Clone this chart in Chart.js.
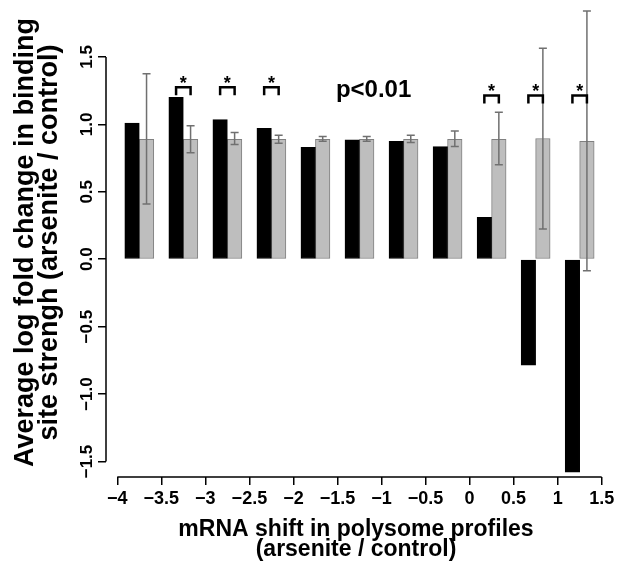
<!DOCTYPE html>
<html>
<head>
<meta charset="utf-8">
<script src="https://cdn.jsdelivr.net/npm/chart.js@4.4.1/dist/chart.umd.min.js"></script>
<style>
  html, body { margin: 0; padding: 0; background: #fff; }
  #wrap { width: 618px; height: 571px; }
</style>
</head>
<body>
<div id="wrap"><canvas id="myChart" width="618" height="571"></canvas></div>
<script>
// bin centres of mRNA shift
const shifts = [-3.75, -3.25, -2.75, -2.25, -1.75, -1.25, -0.75, -0.25, 0.25, 0.75, 1.25];
// black bars / grey bars
const blackVals = [1.01, 1.20, 1.035, 0.97, 0.83, 0.885, 0.875, 0.835, 0.31, -0.785, -1.58];
const greyVals = [0.89, 0.89, 0.89, 0.89, 0.89, 0.89, 0.89, 0.89, 0.89, 0.895, 0.875];
// error bars on grey bars
const greyLow = [0.41, 0.79, 0.85, 0.86, 0.875, 0.875, 0.865, 0.835, 0.70, 0.225, -0.085];
const greyHigh = [1.375, 0.99, 0.94, 0.92, 0.91, 0.91, 0.92, 0.95, 1.09, 1.565, 1.84];
// significance brackets (null = none)
const sigLevel = [null, 1.275, 1.275, 1.275, null, null, null, null, 1.215, 1.215, 1.215];

const xTicks = [-4, -3.5, -3, -2.5, -2, -1.5, -1, -0.5, 0, 0.5, 1, 1.5];
const yTicks = [-1.5, -1, -0.5, 0, 0.5, 1, 1.5];

const pText = 'p<0.01';
const pAt = { x: -1.09, y: 1.255 };

const fontFam = '"Liberation Sans", Arial, Helvetica, sans-serif';
const minus = v => String(v).replace('-', '\u2212');

// R style axis lines (only from first to last tick) + error bars + brackets
const extras = {
  id: 'extras',
  afterDatasetsDraw(chart) {
    const c = chart.ctx;
    const xs = chart.scales.x, ys = chart.scales.y;
    const a = chart.chartArea;
    const m0 = chart.getDatasetMeta(0), m1 = chart.getDatasetMeta(1);

    c.save();
    // error bars
    c.strokeStyle = '#707070';
    c.lineWidth = 1.5;
    for (let i = 0; i < shifts.length; i++) {
      const x = m1.data[i].x;
      const y1 = ys.getPixelForValue(greyLow[i]);
      const y2 = ys.getPixelForValue(greyHigh[i]);
      c.beginPath();
      c.moveTo(x, y1); c.lineTo(x, y2);
      c.moveTo(x - 4, y1); c.lineTo(x + 4, y1);
      c.moveTo(x - 4, y2); c.lineTo(x + 4, y2);
      c.stroke();
    }

    // brackets with stars
    c.strokeStyle = '#000';
    c.lineWidth = 2.5;
    c.fillStyle = '#000';
    c.font = 'bold 18px ' + fontFam;
    c.textAlign = 'center';
    c.textBaseline = 'middle';
    for (let i = 0; i < shifts.length; i++) {
      if (sigLevel[i] == null) continue;
      const xa = m0.data[i].x, xb = m1.data[i].x;
      const y = ys.getPixelForValue(sigLevel[i]);
      c.beginPath();
      c.moveTo(xa, y + 8); c.lineTo(xa, y); c.lineTo(xb, y); c.lineTo(xb, y + 8);
      c.stroke();
      c.fillText('*', (xa + xb) / 2, y - 3);
    }

    // p value
    c.font = 'bold 24px ' + fontFam;
    c.fillText(pText, xs.getPixelForValue(pAt.x), ys.getPixelForValue(pAt.y));

    // axis lines
    c.lineWidth = 1.5;
    c.beginPath();
    c.moveTo(a.left, ys.getPixelForValue(yTicks[0]));
    c.lineTo(a.left, ys.getPixelForValue(yTicks[yTicks.length - 1]));
    c.moveTo(xs.getPixelForValue(xTicks[0]), a.bottom);
    c.lineTo(xs.getPixelForValue(xTicks[xTicks.length - 1]), a.bottom);
    c.stroke();
    c.restore();
  }
};

const ctx = document.getElementById('myChart').getContext('2d');
const myChart = new Chart(ctx, {
  type: 'bar',
  data: {
    datasets: [{
      label: 'black',
      data: shifts.map((s, i) => ({ x: s, y: blackVals[i] })),
      backgroundColor: '#000',
      borderColor: '#000',
      borderWidth: 1,
      borderSkipped: false
    }, {
      label: 'grey',
      data: shifts.map((s, i) => ({ x: s, y: greyVals[i] })),
      backgroundColor: '#bebebe',
      borderColor: '#808080',
      borderWidth: 1,
      borderSkipped: false
    }]
  },
  options: {
    responsive: false,
    animation: false,
    barThickness: 14.5,
    layout: { padding: { left: 0, right: 12, top: 8, bottom: 0 } },
    plugins: { legend: { display: false }, tooltip: { enabled: false } },
    scales: {
      x: {
        type: 'linear',
        offset: false,
        min: -4.128,
        max: 1.549,
        afterBuildTicks: s => { s.ticks = xTicks.map(v => ({ value: v })); },
        afterFit: s => { s.height = 94; },
        grid: { offset: false, drawOnChartArea: false, drawTicks: true, tickLength: 8, color: '#000', lineWidth: 1.5 },
        border: { display: false },
        ticks: {
          autoSkip: false,
          maxRotation: 0,
          padding: 3,
          color: '#000',
          font: { family: fontFam, size: 18, weight: 'bold' },
          callback: v => minus(v)
        },
        title: {
          display: true,
          text: ['mRNA shift in polysome profiles', '(arsenite / control)'],
          color: '#000',
          font: { family: fontFam, size: 23, weight: 'bold', lineHeight: 0.88 },
          padding: { top: 0, bottom: 11 }
        }
      },
      y: {
        min: -1.615,
        max: 1.863,
        afterBuildTicks: s => { s.ticks = yTicks.map(v => ({ value: v })); },
        afterFit: s => { s.width = 106; },
        grid: { drawOnChartArea: false, drawTicks: true, tickLength: 8, color: '#000', lineWidth: 1.5 },
        border: { display: false },
        ticks: {
          autoSkip: false,
          minRotation: 90,
          maxRotation: 90,
          crossAlign: 'center',
          padding: -6,
          color: '#000',
          font: { family: fontFam, size: 17, weight: 'bold' },
          callback: v => minus(v.toFixed(1))
        },
        title: {
          display: true,
          text: ['Average log fold change in binding', 'site strengh (arsenite / control)'],
          color: '#000',
          font: { family: fontFam, size: 27, weight: 'bold', lineHeight: 0.89 },
          padding: { top: 14, bottom: 0 }
        }
      }
    }
  },
  plugins: [extras]
});
</script>
</body>
</html>
